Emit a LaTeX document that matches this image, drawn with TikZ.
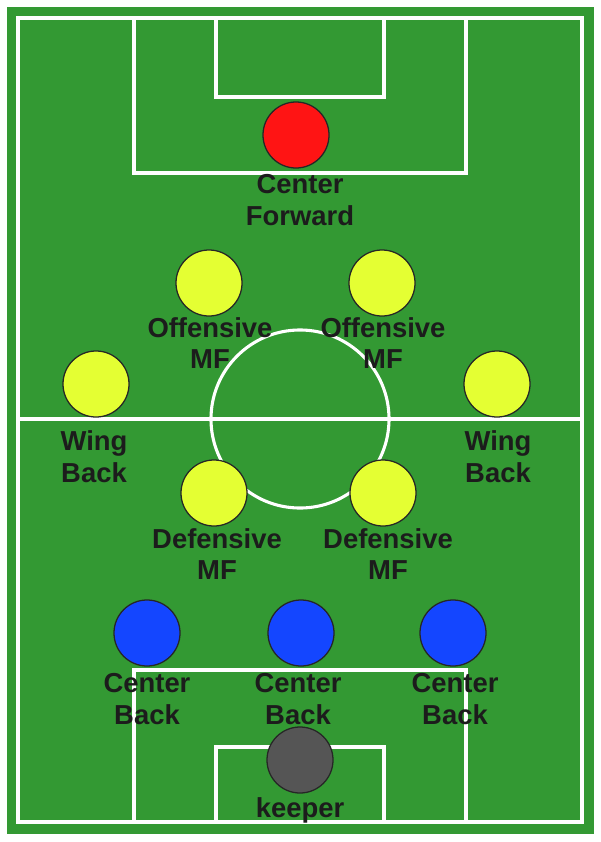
\documentclass[tikz,border=0pt]{standalone}
\usepackage{fontspec}
\setmainfont{Liberation Sans}
\usepackage{tikz}
\definecolor{pitchgreen}{RGB}{51,153,51}
\definecolor{mfyellow}{RGB}{228,255,51}
\definecolor{fwdred}{RGB}{255,20,20}
\definecolor{backblue}{RGB}{20,70,255}
\definecolor{keepergray}{RGB}{85,85,85}
\definecolor{labelink}{RGB}{28,28,28}
\tikzstyle{pitchline}=[
        draw=white,
        line width=2.2pt
]
\tikzstyle{player}=[
        circle,
        draw=black!85,
        line width=0.9pt,
        minimum size=1.65cm,
        inner sep=0pt
]
\tikzstyle{role}=[
        align=center,
        text=labelink,
        font=\fontsize{19.5}{22.5}\selectfont\bfseries
]

\begin{document}
\begin{tikzpicture}[x=0.025cm,y=-0.025cm]
                    \useasboundingbox (0,0) rectangle (600,842);
                    \fill[white] (0,0) rectangle (600,842);
                    \fill[pitchgreen] (7,7) rectangle (594,834);

                    % field markings
                    \draw[pitchline] (18,18) rectangle (582,822);
                    \draw[pitchline] (18,419) -- (582,419);
                    \draw[pitchline] (300,419) circle [radius=2.225cm];
                    \draw[pitchline] (134,18) rectangle (466,173);
                    \draw[pitchline] (216,18) rectangle (384,97);
                    \draw[pitchline] (134,822) rectangle (466,670);
                    \draw[pitchline] (216,822) rectangle (384,747);

                    \node[player, fill=fwdred] (cf) at (296,135) {};
                    \node[role] (cflabel) at (300,200) {Center\\Forward};

                    \foreach \x/\lx/\n in {209/210/1,382/383/2} {
                        \node[player, fill=mfyellow] (omf\n) at (\x,283) {};
                        \node[role] (omflabel\n) at (\lx,343) {Offensive\\MF};
                    }

                    \foreach \x/\lx/\n in {96/94/1,497/498/2} {
                        \node[player, fill=mfyellow] (wb\n) at (\x,384) {};
                        \node[role] (wblabel\n) at (\lx,457) {Wing\\Back};
                    }

                    \foreach \x/\lx/\n in {214/217/1,383/388/2} {
                        \node[player, fill=mfyellow] (dmf\n) at (\x,493) {};
                        \node[role] (dmflabel\n) at (\lx,554) {Defensive\\MF};
                    }

                    \foreach \x/\lx/\n in {147/147/1,301/298/2,453/455/3} {
                        \node[player, fill=backblue] (cb\n) at (\x,633) {};
                        \node[role] (cblabel\n) at (\lx,699) {Center\\Back};
                    }

                    \node[player, fill=keepergray] (gk) at (300,760) {};
                    \node[role, anchor=base] (gklabel) at (300,817) {keeper};

                \end{tikzpicture}
\end{document}
